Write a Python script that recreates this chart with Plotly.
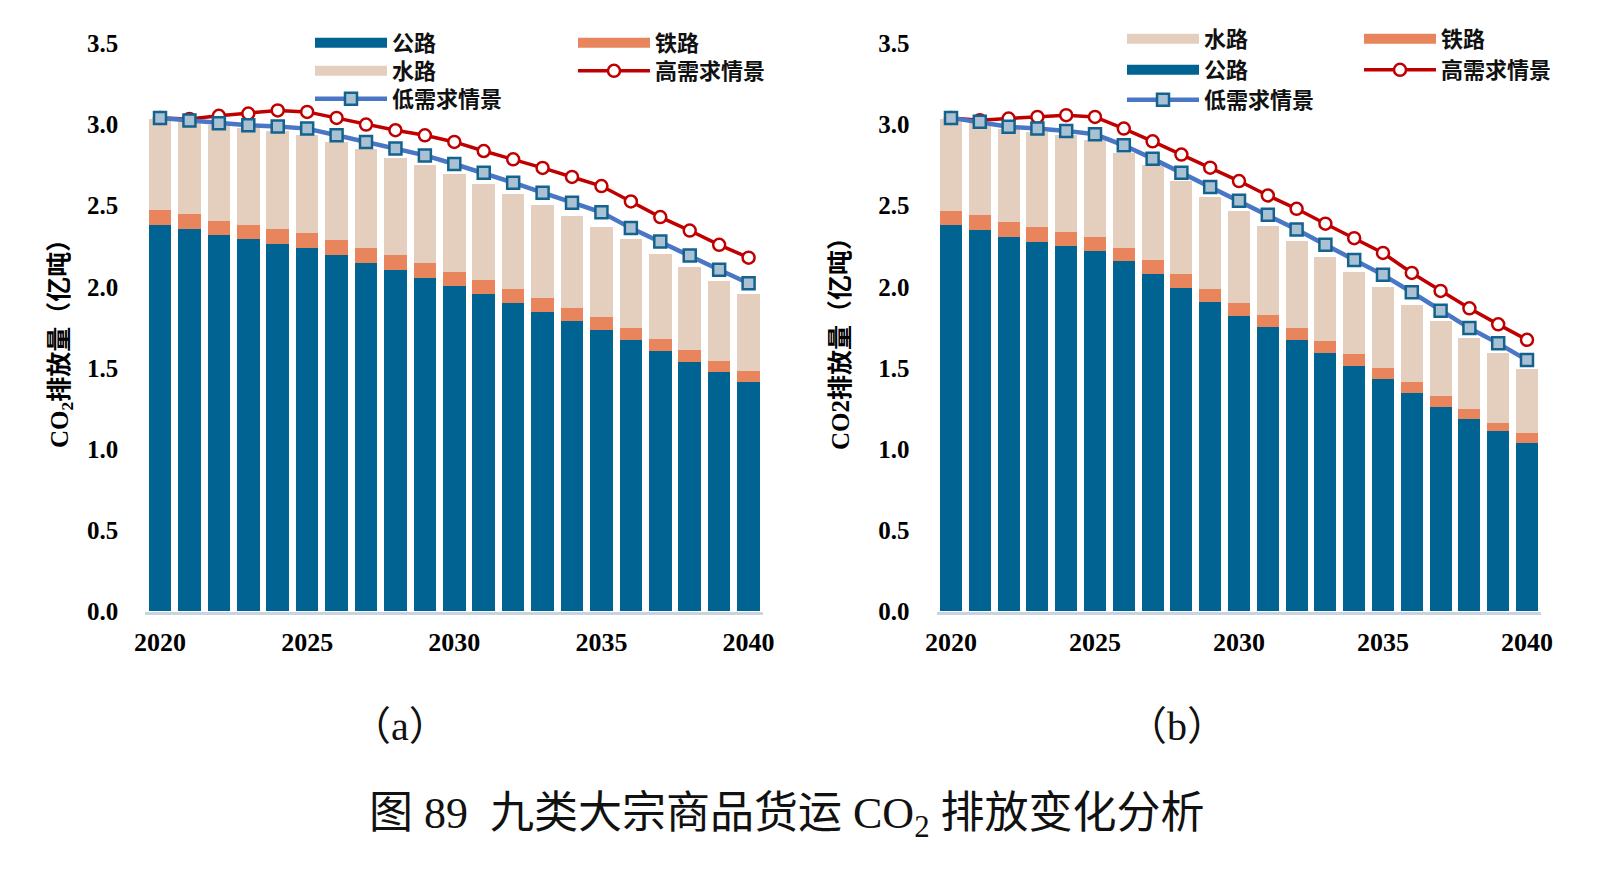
import plotly.graph_objects as go

W, H = 1619, 884

years = list(range(2020, 2041))
tick_years = [2020, 2025, 2030, 2035, 2040]
y_ticks = [0.0, 0.5, 1.0, 1.5, 2.0, 2.5, 3.0, 3.5]

# (a)
a_road = [2.382, 2.357, 2.320, 2.292, 2.267, 2.242, 2.197, 2.148, 2.104, 2.055, 2.007,
          1.956, 1.902, 1.845, 1.789, 1.734, 1.672, 1.606, 1.538, 1.476, 1.417]
a_rail = [0.089, 0.093, 0.087, 0.090, 0.090, 0.091, 0.093, 0.094, 0.093, 0.093, 0.087,
          0.089, 0.087, 0.086, 0.081, 0.082, 0.076, 0.072, 0.074, 0.068, 0.064]
a_water = [0.565, 0.570, 0.589, 0.599, 0.604, 0.605, 0.603, 0.606, 0.599, 0.601, 0.599,
           0.589, 0.581, 0.571, 0.564, 0.554, 0.544, 0.527, 0.513, 0.494, 0.477]
a_high = [3.041, 3.035, 3.054, 3.068, 3.087, 3.078, 3.041, 3.000, 2.965, 2.934, 2.893,
          2.837, 2.786, 2.733, 2.677, 2.621, 2.526, 2.430, 2.347, 2.259, 2.180]
a_low = [3.041, 3.025, 3.008, 2.996, 2.988, 2.975, 2.934, 2.893, 2.852, 2.810, 2.757,
         2.703, 2.642, 2.580, 2.518, 2.459, 2.362, 2.279, 2.193, 2.106, 2.022]

# (b)
b_road = [2.382, 2.353, 2.308, 2.277, 2.253, 2.222, 2.160, 2.080, 1.993, 1.907, 1.822,
          1.752, 1.672, 1.592, 1.513, 1.431, 1.345, 1.262, 1.184, 1.110, 1.036]
b_rail = [0.087, 0.091, 0.091, 0.091, 0.086, 0.086, 0.082, 0.086, 0.085, 0.080, 0.079,
          0.074, 0.074, 0.074, 0.073, 0.068, 0.069, 0.066, 0.062, 0.053, 0.062]
b_water = [0.567, 0.568, 0.576, 0.587, 0.595, 0.595, 0.585, 0.583, 0.572, 0.568, 0.564,
           0.548, 0.538, 0.519, 0.504, 0.499, 0.474, 0.461, 0.437, 0.427, 0.399]
b_high = [3.041, 3.027, 3.037, 3.047, 3.058, 3.047, 2.975, 2.897, 2.815, 2.734, 2.652,
          2.563, 2.481, 2.389, 2.300, 2.209, 2.086, 1.975, 1.868, 1.769, 1.674]
b_low = [3.041, 3.017, 2.986, 2.975, 2.961, 2.940, 2.872, 2.790, 2.703, 2.615, 2.531,
         2.444, 2.353, 2.259, 2.166, 2.074, 1.967, 1.853, 1.746, 1.652, 1.549]

names = {"road": "公路", "rail": "铁路", "water": "水路", "high": "高需求情景", "low": "低需求情景"}

C_ROAD = "#006391"
C_RAIL = "#E9855C"
C_WATER = "#E4CEBE"
C_RED = "#C00000"
C_BLUE = "#4A76C6"
C_SQ_FILL = "#A9C1D3"
C_SQ_EDGE = "#14638F"

SERIF = "Liberation Serif, Noto Sans CJK SC"
CJK_BOLD = "Noto Sans CJK SC"

fig = go.Figure()


def add_panel(xa, ya, road, rail, water, high, low, leg_ids):
    for vals, col in ((road, C_ROAD), (rail, C_RAIL), (water, C_WATER)):
        fig.add_trace(go.Bar(x=years, y=vals, marker=dict(color=col, line=dict(width=0)),
                             showlegend=False, xaxis=xa, yaxis=ya, hoverinfo="skip"))
    fig.add_trace(go.Scatter(x=years, y=high, mode="lines+markers",
                             line=dict(color=C_RED, width=3.5),
                             marker=dict(symbol="circle", size=12, color="white",
                                         line=dict(color=C_RED, width=2.5)),
                             showlegend=False, xaxis=xa, yaxis=ya))
    fig.add_trace(go.Scatter(x=years, y=low, mode="lines+markers",
                             line=dict(color=C_BLUE, width=4.5),
                             marker=dict(symbol="square", size=12, color=C_SQ_FILL,
                                         line=dict(color=C_SQ_EDGE, width=2.5)),
                             showlegend=False, xaxis=xa, yaxis=ya))
    # legend proxies
    fig.add_trace(go.Scatter(x=[None], y=[None], mode="lines", name=names["road"],
                             line=dict(color=C_ROAD, width=11), legend=leg_ids["road"],
                             xaxis=xa, yaxis=ya))
    fig.add_trace(go.Scatter(x=[None], y=[None], mode="lines", name=names["rail"],
                             line=dict(color=C_RAIL, width=11), legend=leg_ids["rail"],
                             xaxis=xa, yaxis=ya))
    fig.add_trace(go.Scatter(x=[None], y=[None], mode="lines", name=names["water"],
                             line=dict(color=C_WATER, width=11), legend=leg_ids["water"],
                             xaxis=xa, yaxis=ya))
    fig.add_trace(go.Scatter(x=[None], y=[None], mode="lines+markers", name=names["high"],
                             line=dict(color=C_RED, width=3.5),
                             marker=dict(symbol="circle", size=12, color="white",
                                         line=dict(color=C_RED, width=2.5)),
                             legend=leg_ids["high"], xaxis=xa, yaxis=ya))
    fig.add_trace(go.Scatter(x=[None], y=[None], mode="lines+markers", name=names["low"],
                             line=dict(color=C_BLUE, width=4.5),
                             marker=dict(symbol="square", size=12, color=C_SQ_FILL,
                                         line=dict(color=C_SQ_EDGE, width=2.5)),
                             legend=leg_ids["low"], xaxis=xa, yaxis=ya))


add_panel("x", "y", a_road, a_rail, a_water, a_high, a_low,
          {"road": "legend", "rail": "legend2", "water": "legend3", "high": "legend4", "low": "legend5"})
add_panel("x2", "y2", b_road, b_rail, b_water, b_high, b_low,
          {"water": "legend6", "rail": "legend7", "road": "legend8", "high": "legend9", "low": "legend10"})

# legend positions: (swatch left px, row centre px)
leg_pos = {
    "legend": (315, 43), "legend2": (578, 43), "legend3": (315, 71),
    "legend4": (578, 71), "legend5": (315, 99),
    "legend6": (1127, 39), "legend7": (1364, 39), "legend8": (1127, 70),
    "legend9": (1364, 70), "legend10": (1127, 100),
}
legends = {}
for k, (px, py) in leg_pos.items():
    legends[k] = dict(x=(px - 5) / W, y=1 - py / H, xanchor="left", yanchor="middle",
                      bgcolor="rgba(0,0,0,0)", borderwidth=0, itemwidth=72,
                      font=dict(family=CJK_BOLD, size=22, color="#111", weight="bold"),
                      tracegroupgap=0)

y_dom = [1 - 611.5 / H, 1 - 43.4 / H]
tick_font = dict(family="Liberation Serif", size=25, color="black", weight="bold")
xtick_font = dict(family="Liberation Serif", size=26, color="black", weight="bold")
axis_common_x = dict(range=[2019.5, 2040.5], tickmode="array", tickvals=tick_years,
                     ticktext=[str(t) for t in tick_years], showgrid=False, zeroline=False,
                     showline=True, linecolor="#C8D5DF", linewidth=3, ticks="",
                     tickfont=xtick_font, ticklabelstandoff=5, automargin=False, fixedrange=True)
axis_common_y = dict(range=[0, 3.5], tickmode="array", tickvals=y_ticks,
                     ticktext=[f"{v:.1f}" for v in y_ticks], showgrid=False, zeroline=False,
                     showline=False, ticks="", tickfont=tick_font, ticklabelstandoff=26,
                     automargin=False, domain=y_dom, fixedrange=True)

title_font = dict(family=SERIF, size=25, color="black", weight="bold")

fig.update_layout(
    width=W, height=H,
    margin=dict(l=0, r=0, t=0, b=0, autoexpand=False),
    paper_bgcolor="white", plot_bgcolor="white",
    barmode="stack", bargap=0.23,
    showlegend=True,
    xaxis=dict(domain=[145.3 / W, 763.3 / W], anchor="y", **axis_common_x),
    yaxis=dict(anchor="x", **axis_common_y),
    xaxis2=dict(domain=[936.6 / W, 1541.4 / W], anchor="y2", **axis_common_x),
    yaxis2=dict(anchor="x2", **axis_common_y),
    **legends,
    annotations=[
        dict(text="CO<sub>2</sub>排放量（亿吨）", x=61 / W, y=1 - 338 / H, xref="paper", yref="paper",
             textangle=-90, showarrow=False, xanchor="center", yanchor="middle", font=title_font),
        dict(text="CO2排放量（亿吨）", x=840 / W, y=1 - 338 / H, xref="paper", yref="paper",
             textangle=-90, showarrow=False, xanchor="center", yanchor="middle", font=title_font),
        dict(text="（a）", x=400 / W, y=1 - 726 / H,
             xref="paper", yref="paper", showarrow=False, xanchor="center", yanchor="middle",
             font=dict(family=SERIF, size=40, color="#111")),
        dict(text="（b）", x=1177 / W, y=1 - 726 / H,
             xref="paper", yref="paper", showarrow=False, xanchor="center", yanchor="middle",
             font=dict(family=SERIF, size=40, color="#111")),
        dict(text="图 89  九类大宗商品货运 CO<sub>2</sub> 排放变化分析", x=787 / W, y=1 - 816 / H,
             xref="paper", yref="paper", showarrow=False, xanchor="center", yanchor="middle",
             font=dict(family=SERIF, size=44, color="#111")),
    ],
)

fig.write_html("out.html")
